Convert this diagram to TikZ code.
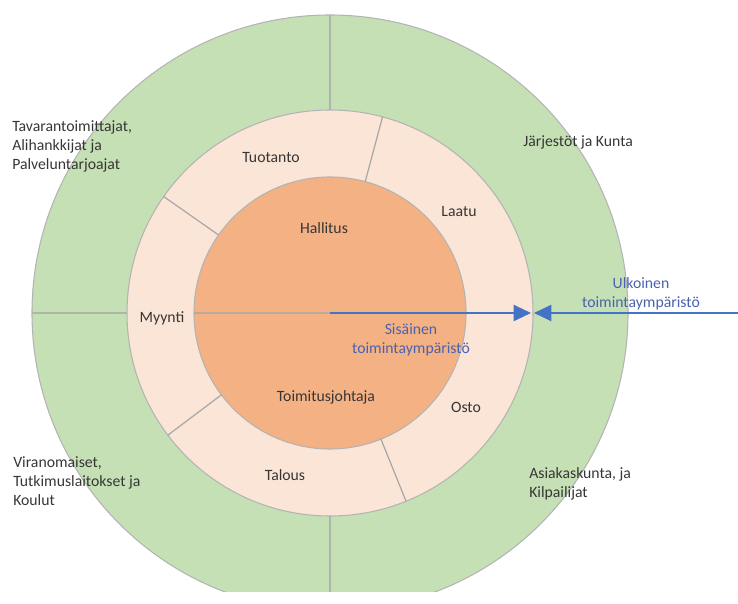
\documentclass[tikz,border=0pt]{standalone}
\usepackage{fontspec}
\setmainfont{Carlito}
\usetikzlibrary{arrows.meta,calc}
\definecolor{ringgreen}{HTML}{C5E0B4}
\definecolor{ringpeach}{HTML}{FBE5D6}
\definecolor{coreorange}{HTML}{F4B183}
\definecolor{edgegrey}{HTML}{B4B4B4}
\definecolor{divgrey}{HTML}{A6A6A6}
\definecolor{labelgrey}{HTML}{363636}
\definecolor{arrowblue}{HTML}{4472C4}
\definecolor{textblue}{HTML}{4A62AE}
\begin{document}
\begin{tikzpicture}[x=0.75pt,y=0.75pt,
  lbl/.style={text=labelgrey,inner sep=0pt,font=\fontsize{11.8}{14.25}\selectfont},
  lblleft/.style={lbl,align=left,anchor=west},
  bluelbl/.style={lbl,text=textblue,align=center},
  divider/.style={draw=divgrey,line width=0.9pt},
  outerdivider/.style={draw=divgrey!75!ringgreen,line width=0.9pt},
  ringedge/.style={draw=edgegrey,line width=0.8pt},
  flow/.style={draw=arrowblue,line width=1.6pt,-{Triangle[length=13,width=12]}}]
\useasboundingbox (0,0) rectangle (738,603);
\clip (0,0) rectangle (738,603);

\coordinate (c) at (330,290);

% rings, outermost first
\fill[ringgreen,ringedge] (c) circle (298);
\fill[ringpeach,ringedge] (c) circle (203);
\fill[coreorange,ringedge] (c) circle (136);

% outer ring dividers
\draw[outerdivider] ($(c)+(90:203)$) -- ($(c)+(90:298)$);
\draw[outerdivider] ($(c)+(270:203)$) -- ($(c)+(270:298)$);
\draw[outerdivider] ($(c)+(180:203)$) -- ($(c)+(180:298)$);

% middle ring dividers
\foreach \a in {75,145,217,292}
  \draw[divider] ($(c)+(\a:136)$) -- ($(c)+(\a:203)$);

% radius inside the core
\draw[draw=divgrey!70!coreorange,line width=0.9pt] ($(c)+(180:136)$) -- (c);

% white strip along the lower edge
\fill[white] (-10,-30) rectangle (748,11);

% arrows meeting at the ring boundary
\coordinate (tipin) at (531,290);
\coordinate (tipout) at (534,290);
\coordinate (farright) at (740,290);
\draw[flow] (c) -- (tipin);
\draw[flow] (farright) -- (tipout);

% outer ring labels
\node[lblleft] (suppliers) at (12,457) {Tavarantoimittajat,\\Alihankkijat ja\\Palveluntarjoajat};
\node[lbl,anchor=west] (orgs) at (523,461) {Järjestöt ja Kunta};
\node[lblleft] (authorities) at (13,122) {Viranomaiset,\\Tutkimuslaitokset ja\\Koulut};
\node[lblleft] (customers) at (529,119) {Asiakaskunta, ja\\Kilpailijat};

% middle ring labels
\node[lbl] (tuotanto) at (271,445) {Tuotanto};
\node[lbl] (laatu) at (459,391) {Laatu};
\node[lbl] (myynti) at (162,285) {Myynti};
\node[lbl] (osto) at (466,196) {Osto};
\node[lbl] (talous) at (285,128) {Talous};

% core labels
\node[lbl] (hallitus) at (324,375) {Hallitus};
\node[lbl] (ceo) at (326,206) {Toimitusjohtaja};

% environment labels
\node[bluelbl] (inner) at (411,263) {Sisäinen\\toimintaympäristö};
\node[bluelbl] (outer) at (641,309) {Ulkoinen\\toimintaympäristö};
\end{tikzpicture}
\end{document}
